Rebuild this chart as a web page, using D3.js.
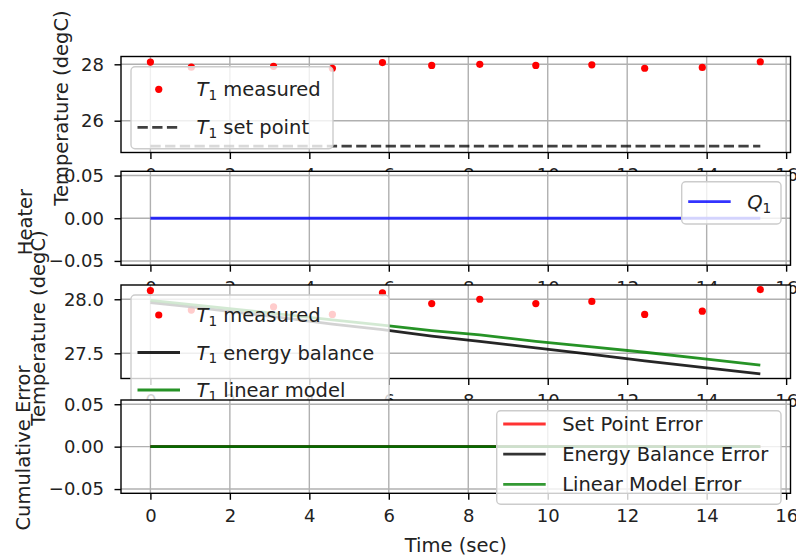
<!DOCTYPE html>
<html><head><meta charset="utf-8">
<script src="https://cdn.jsdelivr.net/npm/d3@7"></script>
<style>
body{margin:0;background:#fff}
svg{display:block;font-family:"DejaVu Sans",sans-serif}
</style>
</head><body>
<svg id="chart" width="796" height="558"></svg>
<script>
// ---------------- data ----------------
const timeSec        = [0, 1.03, 3.1, 4.58, 5.84, 7.08, 8.29, 9.70, 11.11, 12.44, 13.89, 15.35];
const t1Measured     = [28.08, 27.90, 27.93, 27.86, 28.06, 27.96, 28.00, 27.96, 27.98, 27.86, 27.89, 28.09];
const t1SetPoint     = [25.1, 25.1, 25.1, 25.1, 25.1, 25.1, 25.1, 25.1, 25.1, 25.1, 25.1, 25.1];
const q1Heater       = [0, 0, 0, 0, 0, 0, 0, 0, 0, 0, 0, 0];
const t1EnergyBal    = [27.97, 27.93, 27.84, 27.77, 27.72, 27.66, 27.61, 27.55, 27.49, 27.43, 27.37, 27.31];
const t1LinearModel  = [27.99, 27.95, 27.87, 27.81, 27.76, 27.71, 27.67, 27.61, 27.56, 27.51, 27.45, 27.39];
const setPointErr    = [0, 0, 0, 0, 0, 0, 0, 0, 0, 0, 0, 0];
const energyBalErr   = [0, 0, 0, 0, 0, 0, 0, 0, 0, 0, 0, 0];
const linearModelErr = [0, 0, 0, 0, 0, 0, 0, 0, 0, 0, 0, 0];

const xTicks        = [0, 2, 4, 6, 8, 10, 12, 14, 16];
const tempTopTicks  = [26, 28];
const heaterTicks   = [-0.05, 0, 0.05];
const tempModTicks  = [27.5, 28.0];
const errorTicks    = [-0.05, 0, 0.05];
const xLabel = "Time (sec)";

// ---------------- layout ----------------
const svg = d3.select("#chart");
const L = 121, R = 790.5;
const x = d3.scaleLinear().domain([-0.74, 16.11]).range([L, R]);
const TICK_FS = 18, LABEL_FS = 19.5, LEG_FS = 19.5;

function mathText(sel, parts, fs) {
  parts.forEach(p => {
    const ts = sel.append("tspan").text(p.t);
    if (p.it) ts.attr("font-style", "italic");
    if (p.sub) ts.attr("font-size", fs * 0.7).attr("dy", fs * 0.2);
    if (p.after) ts.attr("dy", -fs * 0.2);
  });
}

function panel(cfg) {
  const g = svg.append("g");
  const y = d3.scaleLinear().domain(cfg.yDomain).range([cfg.bottom, cfg.top]);
  g.append("rect").attr("x", L).attr("y", cfg.top).attr("width", R - L)
    .attr("height", cfg.bottom - cfg.top).attr("fill", "#fff");

  // grid
  const grid = g.append("g").attr("stroke", "#b0b0b0").attr("stroke-width", 1.4);
  xTicks.forEach(t => grid.append("line").attr("x1", x(t)).attr("x2", x(t)).attr("y1", cfg.top).attr("y2", cfg.bottom));
  cfg.yTicks.forEach(t => grid.append("line").attr("x1", L).attr("x2", R).attr("y1", y(t)).attr("y2", y(t)));

  // axes
  const xa = g.append("g").attr("transform", `translate(0,${cfg.bottom})`)
    .call(d3.axisBottom(x).tickValues(xTicks).tickFormat(d3.format("d")).tickSize(6.5).tickPadding(9.5));
  const ya = g.append("g").attr("transform", `translate(${L},0)`)
    .call(d3.axisLeft(y).tickValues(cfg.yTicks).tickFormat(d3.format(cfg.fmt)).tickSize(6.5).tickPadding(10.5));
  [xa, ya].forEach(a => {
    a.select(".domain").remove();
    a.selectAll("line").attr("stroke", "#000").attr("stroke-width", 1.4);
    a.selectAll("text").attr("font-size", TICK_FS).attr("fill", "#222").attr("font-family", "DejaVu Sans");
  });

  // y label
  g.append("text").attr("transform", `translate(${cfg.labelX},${cfg.labelY}) rotate(-90)`)
    .attr("text-anchor", "middle").attr("font-size", LABEL_FS).attr("fill", "#222").text(cfg.ylabel);

  // series
  const line = d3.line().x((d, i) => x(timeSec[i])).y(d => y(d));
  cfg.series.forEach(s => {
    if (s.type === "dot") {
      g.append("g").selectAll("circle").data(s.values).join("circle")
        .attr("cx", (d, i) => x(timeSec[i])).attr("cy", d => y(d)).attr("r", 3.6).attr("fill", s.color);
    } else {
      g.append("path").attr("d", line(s.values)).attr("fill", "none").attr("stroke", s.color)
        .attr("stroke-opacity", s.alpha).attr("stroke-width", 2.8)
        .attr("stroke-dasharray", s.type === "dash" ? "10.3,4.4" : null);
    }
  });

  // spines
  g.append("rect").attr("x", L).attr("y", cfg.top).attr("width", R - L)
    .attr("height", cfg.bottom - cfg.top).attr("fill", "none").attr("stroke", "#000").attr("stroke-width", 1.4);

  // legend
  const lg = cfg.legend;
  const leg = g.append("g");
  leg.append("rect").attr("x", lg.x).attr("y", lg.y).attr("width", lg.w).attr("height", lg.h)
    .attr("rx", 4).attr("fill", "#fff").attr("fill-opacity", 0.8).attr("stroke", "#cccccc").attr("stroke-width", 1.4);
  cfg.series.forEach((s, i) => {
    const cy = lg.firstY + i * lg.step;
    const hx0 = lg.x + 6.5, hx1 = lg.x + 49;
    if (s.type === "dot") {
      leg.append("circle").attr("cx", (hx0 + hx1) / 2).attr("cy", cy).attr("r", 3.6).attr("fill", s.color);
    } else {
      leg.append("line").attr("x1", hx0).attr("x2", hx1).attr("y1", cy).attr("y2", cy)
        .attr("stroke", s.color).attr("stroke-opacity", s.alpha).attr("stroke-width", 2.8)
        .attr("stroke-dasharray", s.type === "dash" ? "10.3,4.4" : null);
    }
    const t = leg.append("text").attr("x", lg.x + 65.5).attr("y", cy + 7).attr("font-size", LEG_FS).attr("fill", "#222");
    mathText(t, s.label, LEG_FS);
  });

  if (cfg.xlabel) {
    g.append("text").attr("x", (L + R) / 2).attr("y", 552).attr("text-anchor", "middle")
      .attr("font-size", LABEL_FS).attr("fill", "#222").text(cfg.xlabel);
  }
}

const T1 = [{t: "T", it: true}, {t: "1", sub: true}];

panel({
  top: 56.5, bottom: 152.5, yDomain: [24.872, 28.277], yTicks: tempTopTicks, fmt: "d",
  ylabel: "Temperature (degC)", labelX: 68, labelY: 108,
  series: [
    {type: "dot", values: t1Measured, color: "#ff0000", label: [...T1, {t: " measured", after: true}]},
    {type: "dash", values: t1SetPoint, color: "#000", alpha: 0.75, label: [...T1, {t: " set point", after: true}]}
  ],
  legend: {x: 131, y: 66.7, w: 202, h: 82, firstY: 89.3, step: 38}
});

panel({
  top: 171.3, bottom: 265.2, yDomain: [-0.055, 0.055], yTicks: heaterTicks, fmt: ".2f",
  ylabel: "Heater", labelX: 32, labelY: 222,
  series: [
    {type: "line", values: q1Heater, color: "#0000ff", alpha: 0.8, label: [{t: "Q", it: true}, {t: "1", sub: true}]}
  ],
  legend: {x: 681.7, y: 181.7, w: 99.3, h: 42.3, firstY: 201.7, step: 38}
});

panel({
  top: 285, bottom: 378.5, yDomain: [27.267, 28.132], yTicks: tempModTicks, fmt: ".1f",
  ylabel: "Temperature (degC)", labelX: 45, labelY: 328,
  series: [
    {type: "dot", values: t1Measured, color: "#ff0000", label: [...T1, {t: " measured", after: true}]},
    {type: "line", values: t1EnergyBal, color: "#000", alpha: 0.85, label: [...T1, {t: " energy balance", after: true}]},
    {type: "line", values: t1LinearModel, color: "#008000", alpha: 0.85, label: [...T1, {t: " linear model", after: true}]}
  ],
  legend: {x: 131, y: 295, w: 258, h: 118, firstY: 315, step: 37.5}
});

panel({
  top: 400, bottom: 493.3, yDomain: [-0.055, 0.055], yTicks: errorTicks, fmt: ".2f",
  ylabel: "Cumulative Error", labelX: 30, labelY: 448, xlabel: xLabel,
  series: [
    {type: "line", values: setPointErr, color: "#ff0000", alpha: 0.8, label: [{t: "Set Point Error"}]},
    {type: "line", values: energyBalErr, color: "#000", alpha: 0.8, label: [{t: "Energy Balance Error"}]},
    {type: "line", values: linearModelErr, color: "#008000", alpha: 0.8, label: [{t: "Linear Model Error"}]}
  ],
  legend: {x: 496.7, y: 410.7, w: 284.3, h: 93.6, firstY: 424, step: 30.2}
});
</script>
</body></html>
